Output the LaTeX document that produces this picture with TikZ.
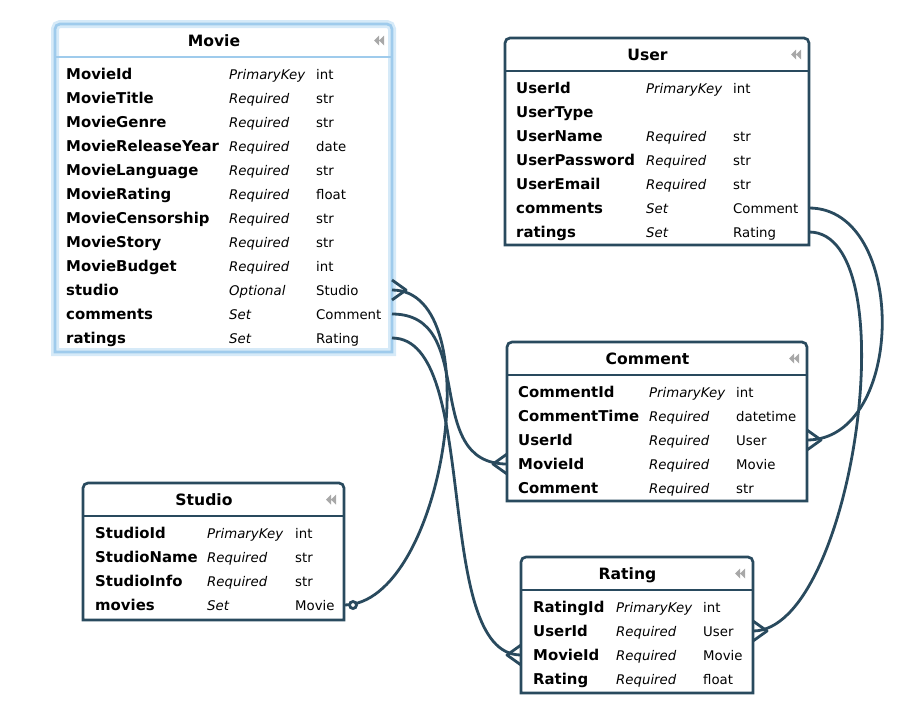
\documentclass[tikz,border=0pt]{standalone}
\usepackage{fontspec}
\setmainfont{DejaVu Sans}[ItalicFont={DejaVu Sans Oblique},BoldFont={DejaVu Sans Bold}]
\usepackage{xcolor}
\usepackage{tikz}

\definecolor{erdline}{HTML}{294A5E}
\definecolor{erdsel}{HTML}{9FCBEC}
\definecolor{erdglow}{HTML}{D6EAF8}
\definecolor{erdicon}{HTML}{A8A8A8}

\newcommand{\namefont}{\fontsize{14.9}{16}\selectfont\bfseries}
\newcommand{\checkfont}{\fontsize{13.3}{15}\selectfont\itshape}
\newcommand{\typefont}{\fontsize{13.3}{15}\selectfont}
\newcommand{\titlefont}{\fontsize{15.6}{17}\selectfont\bfseries}

\tikzset{
    tablebox/.style={anchor=north west, inner sep=0pt, outer sep=0pt},
    tableframe/.style={draw=erdline, line width=2.7pt},
    fieldname/.style={anchor=west, inner sep=0pt, text height=11pt, text depth=0pt, font=\namefont},
    fieldcheck/.style={fieldname, font=\checkfont},
    fieldtype/.style={fieldname, font=\typefont},
    tabletitle/.style={inner sep=0pt, text height=11.5pt, text depth=0pt, font=\titlefont},
    rel/.style={draw=erdline, line width=2.8pt},
    collapse/.pic={\fill[erdicon] (-5,0) -- (0,-5) -- (0,5) -- cycle (0,0) -- (5,-5) -- (5,5) -- cycle;},
    crowfoot/.pic={\draw[rel, line join=round] (0,-10) -- (14,0) -- (0,10);}
}

\begin{document}
\begin{tikzpicture}[x=1pt, y=-1pt]
    \useasboundingbox (0,0) rectangle (903,707);

    % Movie (selected)
    \node[tablebox, minimum width=337pt, minimum height=328pt] (movie) at (55,24) {};
    \draw[erdglow, line width=8pt] (movie.south west) [rounded corners=5pt] -- (movie.north west) -- (movie.north east) [sharp corners] -- (movie.south east) -- cycle;
    \draw[tableframe, draw=erdsel] (movie.south west) [rounded corners=5pt] -- (movie.north west) -- (movie.north east) [sharp corners] -- (movie.south east) -- cycle;
    \draw[tableframe, draw=erdsel] ([yshift=-33pt]movie.north west) -- ([yshift=-33pt]movie.north east);
    \node[tabletitle] (movie-title) at ([xshift=-9.5pt,yshift=-16.5pt]movie.north) {Movie};
    \pic at ([xshift=-13pt,yshift=-16.5pt]movie.north east) {collapse};
    \foreach \n/\c/\t [count=\i from 0] in {MovieId/PrimaryKey/int, MovieTitle/Required/str,
        MovieGenre/Required/str, MovieReleaseYear/Required/date, MovieLanguage/Required/str,
        MovieRating/Required/float, MovieCensorship/Required/str, MovieStory/Required/str,
        MovieBudget/Required/int, studio/Optional/Studio, comments/Set/Comment, ratings/Set/Rating} {
        \node[fieldname] (movie-\n) at ([xshift=11pt,yshift={-50pt-24pt*\i}]movie.north west) {\n};
        \node[fieldcheck] (movie-\n-c) at ([xshift=174pt,yshift={-50pt-24pt*\i}]movie.north west) {\c};
        \node[fieldtype] (movie-\n-t) at ([xshift=261pt,yshift={-50pt-24pt*\i}]movie.north west) {\t};
    }

    % User
    \node[tablebox, minimum width=304pt, minimum height=207pt] (user) at (505,38) {};
    \draw[tableframe] (user.south west) [rounded corners=5pt] -- (user.north west) -- (user.north east) [sharp corners] -- (user.south east) -- cycle;
    \draw[tableframe] ([yshift=-33pt]user.north west) -- ([yshift=-33pt]user.north east);
    \node[tabletitle] (user-title) at ([xshift=-9.5pt,yshift=-16.5pt]user.north) {User};
    \pic at ([xshift=-13pt,yshift=-16.5pt]user.north east) {collapse};
    \foreach \n/\c/\t [count=\i from 0] in {UserId/PrimaryKey/int, UserType//,
        UserName/Required/str, UserPassword/Required/str, UserEmail/Required/str,
        comments/Set/Comment, ratings/Set/Rating} {
        \node[fieldname] (user-\n) at ([xshift=11pt,yshift={-50pt-24pt*\i}]user.north west) {\n};
        \node[fieldcheck] (user-\n-c) at ([xshift=141pt,yshift={-50pt-24pt*\i}]user.north west) {\c};
        \node[fieldtype] (user-\n-t) at ([xshift=228pt,yshift={-50pt-24pt*\i}]user.north west) {\t};
    }

    % Comment
    \node[tablebox, minimum width=300pt, minimum height=159pt] (comment) at (507,342) {};
    \draw[tableframe] (comment.south west) [rounded corners=5pt] -- (comment.north west) -- (comment.north east) [sharp corners] -- (comment.south east) -- cycle;
    \draw[tableframe] ([yshift=-33pt]comment.north west) -- ([yshift=-33pt]comment.north east);
    \node[tabletitle] (comment-title) at ([xshift=-9.5pt,yshift=-16.5pt]comment.north) {Comment};
    \pic at ([xshift=-13pt,yshift=-16.5pt]comment.north east) {collapse};
    \foreach \n/\c/\t [count=\i from 0] in {CommentId/PrimaryKey/int, CommentTime/Required/datetime,
        UserId/Required/User, MovieId/Required/Movie, Comment/Required/str} {
        \node[fieldname] (comment-\n) at ([xshift=11pt,yshift={-50pt-24pt*\i}]comment.north west) {\n};
        \node[fieldcheck] (comment-\n-c) at ([xshift=142pt,yshift={-50pt-24pt*\i}]comment.north west) {\c};
        \node[fieldtype] (comment-\n-t) at ([xshift=229pt,yshift={-50pt-24pt*\i}]comment.north west) {\t};
    }

    % Studio
    \node[tablebox, minimum width=261pt, minimum height=137pt] (studio) at (83,483) {};
    \draw[tableframe] (studio.south west) [rounded corners=5pt] -- (studio.north west) -- (studio.north east) [sharp corners] -- (studio.south east) -- cycle;
    \draw[tableframe] ([yshift=-33pt]studio.north west) -- ([yshift=-33pt]studio.north east);
    \node[tabletitle] (studio-title) at ([xshift=-9.5pt,yshift=-16.5pt]studio.north) {Studio};
    \pic at ([xshift=-13pt,yshift=-16.5pt]studio.north east) {collapse};
    \foreach \n/\c/\t [count=\i from 0] in {StudioId/PrimaryKey/int, StudioName/Required/str,
        StudioInfo/Required/str, movies/Set/Movie} {
        \node[fieldname] (studio-\n) at ([xshift=12pt,yshift={-50pt-24pt*\i}]studio.north west) {\n};
        \node[fieldcheck] (studio-\n-c) at ([xshift=124pt,yshift={-50pt-24pt*\i}]studio.north west) {\c};
        \node[fieldtype] (studio-\n-t) at ([xshift=212pt,yshift={-50pt-24pt*\i}]studio.north west) {\t};
    }

    % Rating
    \node[tablebox, minimum width=232pt, minimum height=136pt] (rating) at (521,557) {};
    \draw[tableframe] (rating.south west) [rounded corners=5pt] -- (rating.north west) -- (rating.north east) [sharp corners] -- (rating.south east) -- cycle;
    \draw[tableframe] ([yshift=-33pt]rating.north west) -- ([yshift=-33pt]rating.north east);
    \node[tabletitle] (rating-title) at ([xshift=-9.5pt,yshift=-16.5pt]rating.north) {Rating};
    \pic at ([xshift=-13pt,yshift=-16.5pt]rating.north east) {collapse};
    \foreach \n/\c/\t [count=\i from 0] in {RatingId/PrimaryKey/int, UserId/Required/User,
        MovieId/Required/Movie, Rating/Required/float} {
        \node[fieldname] (rating-\n) at ([xshift=12pt,yshift={-50pt-24pt*\i}]rating.north west) {\n};
        \node[fieldcheck] (rating-\n-c) at ([xshift=95pt,yshift={-50pt-24pt*\i}]rating.north west) {\c};
        \node[fieldtype] (rating-\n-t) at ([xshift=182pt,yshift={-50pt-24pt*\i}]rating.north west) {\t};
    }

    % relations
    \coordinate (studio-end) at (studio.east |- studio-movies);
    \draw[rel] (movie.east |- movie-studio) .. controls +(100,0) and +(100,0) .. (studio-end);
    \draw[rel, fill=white] ([xshift=9pt]studio-end) circle [radius=3.5pt];
    \pic at (movie.east |- movie-studio) {crowfoot};

    \draw[rel] (movie.east |- movie-comments) .. controls +(87,0) and +(-87,0) .. (comment.west |- comment-MovieId);
    \pic[xscale=-1] at (comment.west |- comment-MovieId) {crowfoot};

    \draw[rel] (movie.east |- movie-ratings) .. controls +(90,0) and +(-90,0) .. (rating.west |- rating-MovieId);
    \pic[xscale=-1] at (rating.west |- rating-MovieId) {crowfoot};

    \draw[rel] (user.east |- user-comments) .. controls +(99,0) and +(99,0) .. (comment.east |- comment-UserId);
    \pic at (comment.east |- comment-UserId) {crowfoot};

    \draw[rel] (user.east |- user-ratings) .. controls +(100,0) and +(100,0) .. (rating.east |- rating-UserId);
    \pic at (rating.east |- rating-UserId) {crowfoot};
\end{tikzpicture}
\end{document}
